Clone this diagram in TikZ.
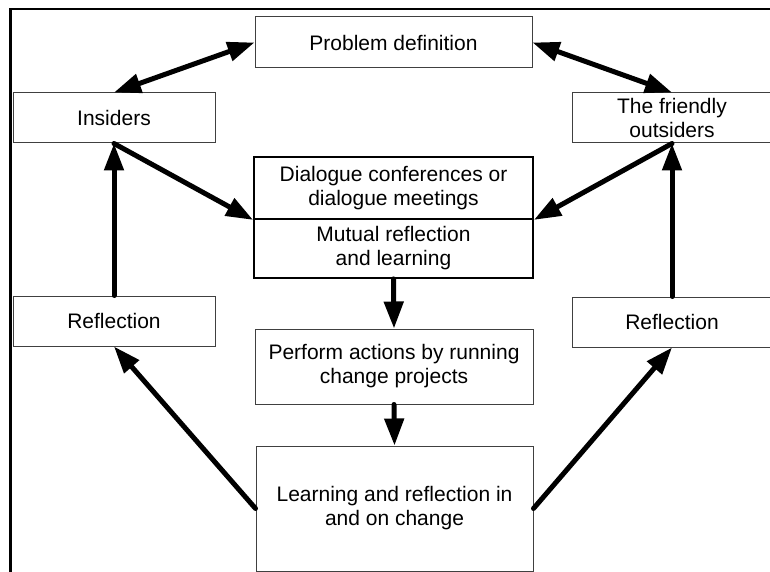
\documentclass[tikz,border=0pt]{standalone}
\usepackage{fontspec}
\setmainfont{Liberation Sans}
\usetikzlibrary{arrows.meta}
\begin{document}
\begin{tikzpicture}[x=1pt,y=-1pt,
  box/.style={draw=black!75, line width=1pt, align=center, inner sep=0pt, font=\fontsize{21}{24}\selectfont},
  dbox/.style={box, draw=black, line width=1.8pt},
  arr/.style={line width=5pt, -{Triangle[length=27pt,width=19pt]}, line cap=round},
  darr/.style={line width=5pt, {Triangle[length=27pt,width=19pt]}-{Triangle[length=27pt,width=19pt]}, line cap=round}]
\useasboundingbox (0,0) rectangle (770,572);
\draw[line width=2.5pt] (10.5,573) -- (10.5,9) -- (771,9);
\node[box, minimum width=277pt, minimum height=51pt] (prob) at (393.5,42.5) {Problem definition};
\node[box, minimum width=202pt, minimum height=50pt] (ins) at (114,118) {Insiders};
\node[box, minimum width=200pt, minimum height=50pt] (fri) at (672,118) {The friendly\\outsiders};
\node[box, minimum width=202pt, minimum height=50pt] (rl) at (114,321) {Reflection};
\node[box, minimum width=200pt, minimum height=50pt] (rr) at (672,322) {Reflection};
\node[dbox, minimum width=279pt, minimum height=62pt] (dia1) at (393.5,188) {Dialogue conferences or\\dialogue meetings};
\node[dbox, minimum width=279pt, minimum height=59pt] (dia2) at (393.5,248.5) {Mutual reflection\\and learning};
\node[box, minimum width=278pt, minimum height=75pt] (perf) at (394,366.5) {Perform actions by running\\change projects};
\node[box, minimum width=277pt, minimum height=125pt] (learn) at (394.5,508.5) {Learning and reflection in\\and on change};
\draw[darr] (ins.north) -- (prob.west);
\draw[darr] (prob.east) -- (fri.north);
\draw[arr] (ins.south) -- (dia1.south west);
\draw[arr] (fri.south) -- (dia1.south east);
\draw[arr] (rl.north) -- (ins.south);
\draw[arr] (rr.north) -- (fri.south);
\draw[arr] (dia2.south) -- (perf.north);
\draw[arr] (perf.south) -- (learn.north);
\draw[arr] (learn.west) -- (rl.south);
\draw[arr] (learn.east) -- (rr.south);
\end{tikzpicture}
\end{document}
